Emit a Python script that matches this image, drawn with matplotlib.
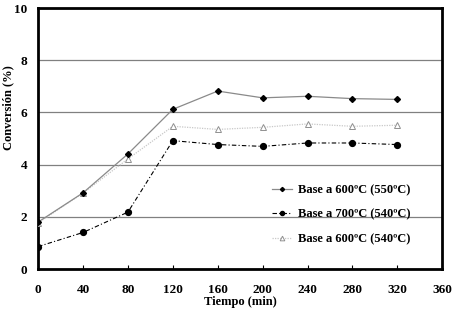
import matplotlib
matplotlib.use('Agg')
import matplotlib.pyplot as plt

tiempo = [0, 40, 80, 120, 160, 200, 240, 280, 320]
base600_550 = [1.8, 2.92, 4.41, 6.12, 6.82, 6.56, 6.62, 6.53, 6.50]
base700_540 = [0.86, 1.40, 2.18, 4.92, 4.77, 4.70, 4.83, 4.83, 4.77]
base600_540 = [1.77, 2.91, 4.22, 5.47, 5.35, 5.43, 5.56, 5.47, 5.51]

plt.rcParams['font.family'] = ['Liberation Serif', 'DejaVu Serif']
plt.rcParams['font.weight'] = 'bold'

fig = plt.figure(figsize=(4.54, 3.11), dpi=100)
ax = fig.add_axes([0.084, 0.135, 0.89, 0.839])

ax.plot(tiempo, base600_550, color='#8a8a8a', lw=0.9, marker='D', ms=3,
        mfc='black', mec='black', label='Base a 600ºC (550ºC)', zorder=4)
ax.plot(tiempo, base700_540, color='black', lw=0.8, ls=(0, (4, 2, 1, 2)), marker='o', ms=4.2,
        mfc='black', mec='black', label='Base a 700ºC (540ºC)', zorder=3)
ax.plot(tiempo, base600_540, color='#c8c8c8', lw=0.9, ls=(0, (1, 1)), marker='^', ms=4.8,
        mfc='white', mec='#909090', mew=0.7, label='Base a 600ºC (540ºC)', zorder=3)

ax.set_xlim(0, 360)
ax.set_ylim(0, 10)
ax.set_xticks(range(0, 361, 40))
ax.set_yticks(range(0, 11, 2))
ax.yaxis.grid(True, color='#808080', lw=0.9)
ax.set_axisbelow(True)
for s in ax.spines.values():
    s.set_linewidth(2)
ax.tick_params(axis='x', direction='in', length=3, labelsize=9.5, pad=11)
ax.tick_params(axis='y', length=0, labelsize=9.5, pad=8)
ax.set_xlabel('Tiempo (min)', fontsize=9, fontweight='bold', labelpad=0)
ax.set_ylabel('Conversión (%)', fontsize=9, fontweight='bold')
ax.yaxis.set_label_coords(-0.058, 0.617)

leg = ax.legend(loc='lower right', bbox_to_anchor=(0.962, 0.03), fontsize=9,
                frameon=True, fancybox=False, framealpha=0, edgecolor='#808080',
                handlelength=1.6, handletextpad=0.5, labelspacing=1.0, borderpad=0.8,
                markerscale=0.7)
leg.get_frame().set_linewidth(0.8)

fig.savefig('out.png', dpi=100)
